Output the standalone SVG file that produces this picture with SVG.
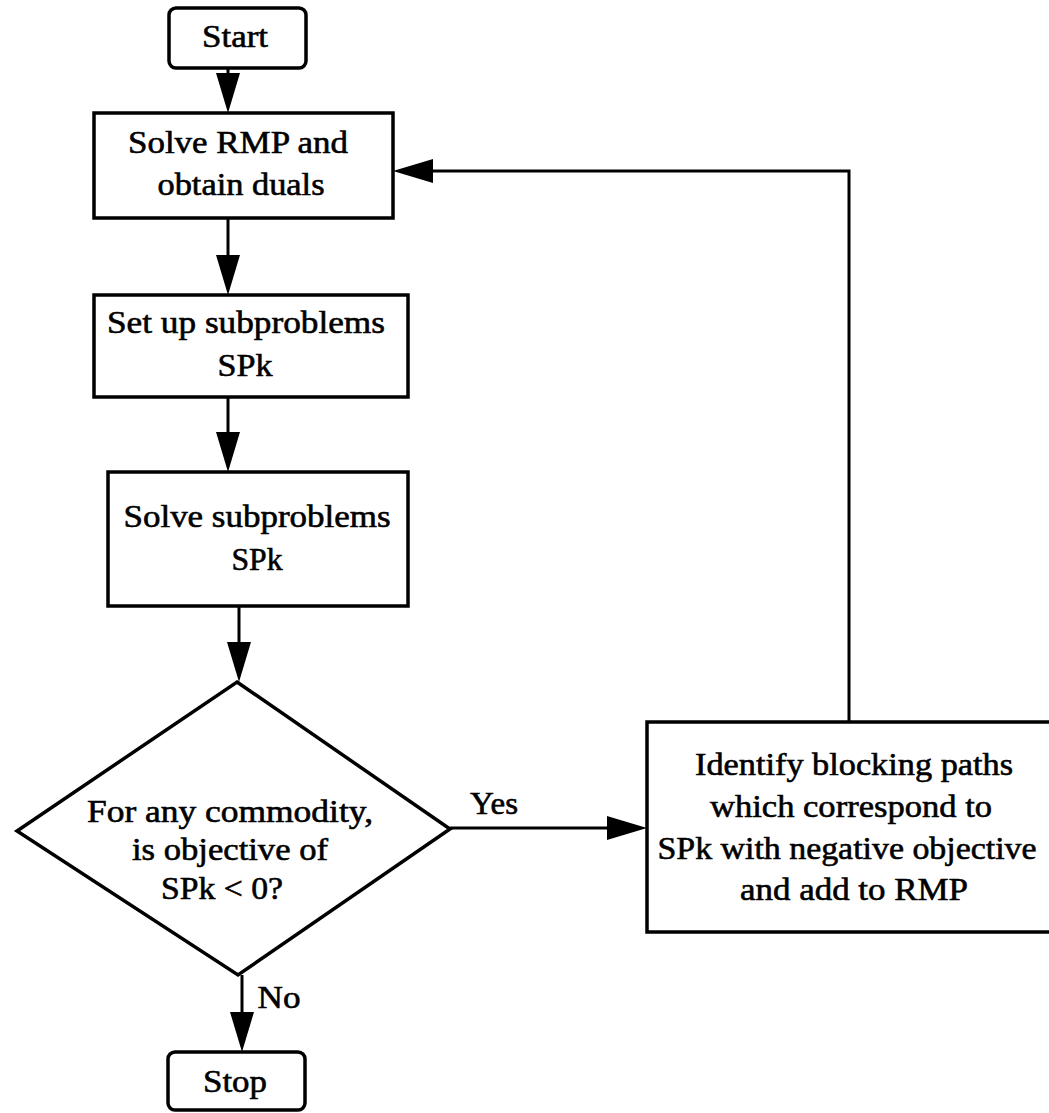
<svg xmlns="http://www.w3.org/2000/svg" width="1049" height="1113" viewBox="0 0 1049 1113">
<style>
.box{fill:#fff;stroke:#000;stroke-width:3.5}
.t{font-family:"Liberation Serif","Times New Roman",serif;font-size:32px;fill:#000;stroke:#000;stroke-width:0.6;text-anchor:middle}
.c{fill:none;stroke:#000;stroke-width:3}
</style>
<defs>
<marker id="ah" viewBox="0 0 40 24" refX="30" refY="12" markerWidth="40" markerHeight="24" markerUnits="userSpaceOnUse" orient="auto">
<path d="M0,0 L40,12 L0,24 Z" fill="#000"/>
</marker>
</defs>
<rect width="1049" height="1113" fill="#fff"/>
<g id="connectors">
<path class="c" d="M228,68 V103" marker-end="url(#ah)"/>
<path class="c" d="M228,218 V285" marker-end="url(#ah)"/>
<path class="c" d="M228,397 V462" marker-end="url(#ah)"/>
<path class="c" d="M239,606 V672" marker-end="url(#ah)"/>
<path class="c" d="M242,975 V1042" marker-end="url(#ah)"/>
<path class="c" d="M450,828 H637" marker-end="url(#ah)"/>
<path class="c" d="M849,722 V171 H403" marker-end="url(#ah)"/>
<text class="t" x="494" y="814" textLength="48" lengthAdjust="spacingAndGlyphs">Yes</text>
<text class="t" x="279" y="1008" textLength="43" lengthAdjust="spacingAndGlyphs">No</text>
</g>
<g id="start">
<rect class="box" x="169" y="8" width="137" height="60" rx="7"/>
<text class="t" x="235" y="47" textLength="66" lengthAdjust="spacingAndGlyphs">Start</text>
</g>
<g id="solve-rmp">
<rect class="box" x="94" y="113" width="299" height="105"/>
<text class="t" x="238" y="153" textLength="220" lengthAdjust="spacingAndGlyphs">Solve RMP and</text>
<text class="t" x="241" y="195" textLength="167" lengthAdjust="spacingAndGlyphs">obtain duals</text>
</g>
<g id="setup-sp">
<rect class="box" x="94" y="295" width="314" height="102"/>
<text class="t" x="246" y="333" textLength="278" lengthAdjust="spacingAndGlyphs">Set up subproblems</text>
<text class="t" x="245" y="376" textLength="55" lengthAdjust="spacingAndGlyphs">SPk</text>
</g>
<g id="solve-sp">
<rect class="box" x="108" y="472" width="300" height="134"/>
<text class="t" x="257" y="527" textLength="267" lengthAdjust="spacingAndGlyphs">Solve subproblems</text>
<text class="t" x="257" y="570" textLength="51" lengthAdjust="spacingAndGlyphs">SPk</text>
</g>
<g id="decision">
<polygon class="box" points="237,682 450,829 238,975 17,831"/>
<text class="t" x="230" y="822" textLength="286" lengthAdjust="spacingAndGlyphs">For any commodity,</text>
<text class="t" x="230" y="860" textLength="196" lengthAdjust="spacingAndGlyphs">is objective of</text>
<text class="t" x="222" y="899" textLength="122" lengthAdjust="spacingAndGlyphs">SPk  &lt; 0?</text>
</g>
<g id="identify">
<rect class="box" x="647" y="722" width="410" height="210"/>
<text class="t" x="854" y="775" textLength="318" lengthAdjust="spacingAndGlyphs">Identify blocking paths</text>
<text class="t" x="851" y="817" textLength="282" lengthAdjust="spacingAndGlyphs">which correspond to</text>
<text class="t" x="847" y="859" textLength="379" lengthAdjust="spacingAndGlyphs">SPk with negative objective</text>
<text class="t" x="854" y="900" textLength="228" lengthAdjust="spacingAndGlyphs">and add to RMP</text>
</g>
<g id="stop">
<rect class="box" x="168" y="1052" width="137" height="58" rx="7"/>
<text class="t" x="235" y="1092" textLength="64" lengthAdjust="spacingAndGlyphs">Stop</text>
</g>
</svg>
